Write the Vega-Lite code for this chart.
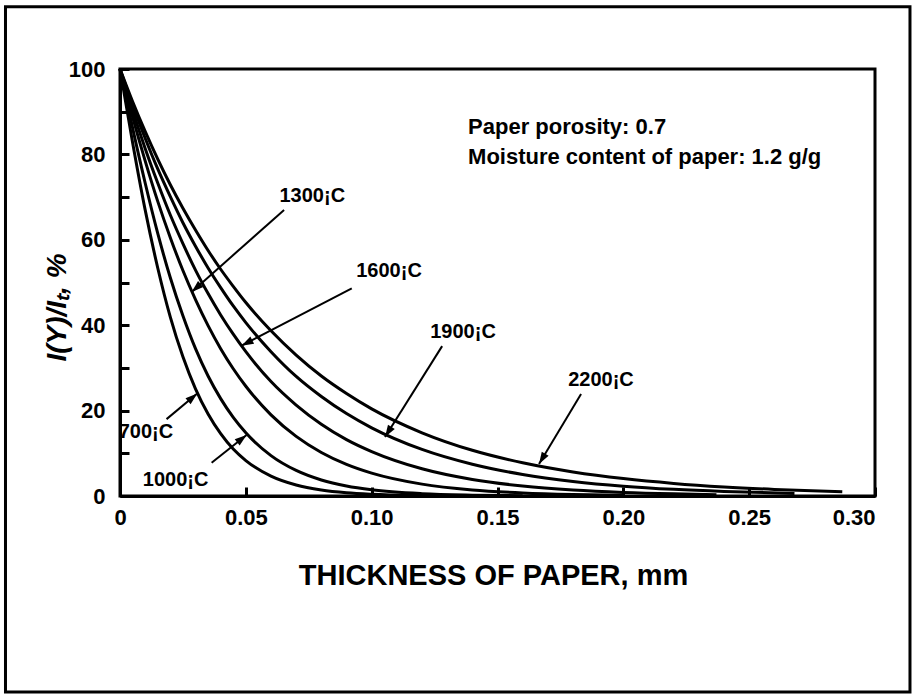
{
  "$schema": "https://vega.github.io/schema/vega-lite/v6.json",
  "width": 755,
  "height": 427,
  "autosize": {"type": "none"},
  "padding": {"left": 120, "top": 69, "right": 42, "bottom": 202},
  "background": "white",
  "config": {"view": {"stroke": "black", "strokeWidth": 3}, "font": "Liberation Sans"},
  "datasets": {
    "curves": [
      {"T": "700", "x": 0, "y": 100}, {"T": "700", "x": 0.005, "y": 82.8}, {"T": "700", "x": 0.01, "y": 67.0}, {"T": "700", "x": 0.015, "y": 53.4}, {"T": "700", "x": 0.02, "y": 41.9}, {"T": "700", "x": 0.025, "y": 32.6}, {"T": "700", "x": 0.03, "y": 25.1}, {"T": "700", "x": 0.035, "y": 19.2}, {"T": "700", "x": 0.04, "y": 14.6}, {"T": "700", "x": 0.045, "y": 11.0}, {"T": "700", "x": 0.05, "y": 8.3}, {"T": "700", "x": 0.06, "y": 4.65}, {"T": "700", "x": 0.07, "y": 2.57}, {"T": "700", "x": 0.08, "y": 1.41}, {"T": "700", "x": 0.09, "y": 0.76}, {"T": "700", "x": 0.10, "y": 0.41}, {"T": "700", "x": 0.12, "y": 0.12}, {"T": "700", "x": 0.13, "y": 0.06},
      {"T": "1000", "x": 0, "y": 100}, {"T": "1000", "x": 0.005, "y": 86.2}, {"T": "1000", "x": 0.01, "y": 73.3}, {"T": "1000", "x": 0.015, "y": 61.5}, {"T": "1000", "x": 0.02, "y": 51.1}, {"T": "1000", "x": 0.025, "y": 42.2}, {"T": "1000", "x": 0.03, "y": 34.5}, {"T": "1000", "x": 0.035, "y": 28.1}, {"T": "1000", "x": 0.04, "y": 22.8}, {"T": "1000", "x": 0.045, "y": 18.4}, {"T": "1000", "x": 0.05, "y": 14.8}, {"T": "1000", "x": 0.06, "y": 9.45}, {"T": "1000", "x": 0.07, "y": 5.98}, {"T": "1000", "x": 0.08, "y": 3.75}, {"T": "1000", "x": 0.09, "y": 2.33}, {"T": "1000", "x": 0.10, "y": 1.44}, {"T": "1000", "x": 0.12, "y": 0.54}, {"T": "1000", "x": 0.14, "y": 0.20}, {"T": "1000", "x": 0.16, "y": 0.07},
      {"T": "1300", "x": 0, "y": 100}, {"T": "1300", "x": 0.005, "y": 88.8}, {"T": "1300", "x": 0.01, "y": 78.5}, {"T": "1300", "x": 0.015, "y": 69.0}, {"T": "1300", "x": 0.02, "y": 60.5}, {"T": "1300", "x": 0.025, "y": 52.8}, {"T": "1300", "x": 0.03, "y": 46.0}, {"T": "1300", "x": 0.035, "y": 39.9}, {"T": "1300", "x": 0.04, "y": 34.5}, {"T": "1300", "x": 0.045, "y": 29.8}, {"T": "1300", "x": 0.05, "y": 25.7}, {"T": "1300", "x": 0.06, "y": 19.0}, {"T": "1300", "x": 0.07, "y": 13.96}, {"T": "1300", "x": 0.08, "y": 10.2}, {"T": "1300", "x": 0.09, "y": 7.41}, {"T": "1300", "x": 0.10, "y": 5.36}, {"T": "1300", "x": 0.12, "y": 2.78}, {"T": "1300", "x": 0.14, "y": 1.42}, {"T": "1300", "x": 0.16, "y": 0.72}, {"T": "1300", "x": 0.18, "y": 0.36}, {"T": "1300", "x": 0.20, "y": 0.18},
      {"T": "1600", "x": 0, "y": 100}, {"T": "1600", "x": 0.005, "y": 90.3}, {"T": "1600", "x": 0.01, "y": 81.4}, {"T": "1600", "x": 0.015, "y": 73.3}, {"T": "1600", "x": 0.02, "y": 65.8}, {"T": "1600", "x": 0.025, "y": 59.1}, {"T": "1600", "x": 0.03, "y": 52.9}, {"T": "1600", "x": 0.035, "y": 47.4}, {"T": "1600", "x": 0.04, "y": 42.4}, {"T": "1600", "x": 0.045, "y": 37.9}, {"T": "1600", "x": 0.05, "y": 33.8}, {"T": "1600", "x": 0.06, "y": 26.8}, {"T": "1600", "x": 0.07, "y": 21.3}, {"T": "1600", "x": 0.08, "y": 16.8}, {"T": "1600", "x": 0.09, "y": 13.2}, {"T": "1600", "x": 0.10, "y": 10.4}, {"T": "1600", "x": 0.12, "y": 6.37}, {"T": "1600", "x": 0.14, "y": 3.87}, {"T": "1600", "x": 0.16, "y": 2.34}, {"T": "1600", "x": 0.18, "y": 1.41}, {"T": "1600", "x": 0.20, "y": 0.84}, {"T": "1600", "x": 0.22, "y": 0.50}, {"T": "1600", "x": 0.237, "y": 0.32},
      {"T": "1900", "x": 0, "y": 100}, {"T": "1900", "x": 0.005, "y": 91.6}, {"T": "1900", "x": 0.01, "y": 83.8}, {"T": "1900", "x": 0.015, "y": 76.6}, {"T": "1900", "x": 0.02, "y": 70.1}, {"T": "1900", "x": 0.025, "y": 64.0}, {"T": "1900", "x": 0.03, "y": 58.5}, {"T": "1900", "x": 0.035, "y": 53.4}, {"T": "1900", "x": 0.04, "y": 48.8}, {"T": "1900", "x": 0.045, "y": 44.5}, {"T": "1900", "x": 0.05, "y": 40.6}, {"T": "1900", "x": 0.06, "y": 33.8}, {"T": "1900", "x": 0.07, "y": 28.0}, {"T": "1900", "x": 0.08, "y": 23.3}, {"T": "1900", "x": 0.09, "y": 19.3}, {"T": "1900", "x": 0.10, "y": 15.96}, {"T": "1900", "x": 0.12, "y": 10.9}, {"T": "1900", "x": 0.14, "y": 7.43}, {"T": "1900", "x": 0.16, "y": 5.04}, {"T": "1900", "x": 0.18, "y": 3.42}, {"T": "1900", "x": 0.20, "y": 2.31}, {"T": "1900", "x": 0.22, "y": 1.56}, {"T": "1900", "x": 0.24, "y": 1.05}, {"T": "1900", "x": 0.268, "y": 0.60},
      {"T": "2200", "x": 0, "y": 100}, {"T": "2200", "x": 0.005, "y": 92.4}, {"T": "2200", "x": 0.01, "y": 85.4}, {"T": "2200", "x": 0.015, "y": 78.9}, {"T": "2200", "x": 0.02, "y": 72.9}, {"T": "2200", "x": 0.025, "y": 67.4}, {"T": "2200", "x": 0.03, "y": 62.3}, {"T": "2200", "x": 0.035, "y": 57.5}, {"T": "2200", "x": 0.04, "y": 53.1}, {"T": "2200", "x": 0.045, "y": 49.1}, {"T": "2200", "x": 0.05, "y": 45.3}, {"T": "2200", "x": 0.06, "y": 38.7}, {"T": "2200", "x": 0.07, "y": 33.0}, {"T": "2200", "x": 0.08, "y": 28.1}, {"T": "2200", "x": 0.09, "y": 24.0}, {"T": "2200", "x": 0.10, "y": 20.4}, {"T": "2200", "x": 0.12, "y": 14.8}, {"T": "2200", "x": 0.14, "y": 10.7}, {"T": "2200", "x": 0.16, "y": 7.78}, {"T": "2200", "x": 0.18, "y": 5.64}, {"T": "2200", "x": 0.20, "y": 4.08}, {"T": "2200", "x": 0.22, "y": 2.95}, {"T": "2200", "x": 0.24, "y": 2.13}, {"T": "2200", "x": 0.26, "y": 1.54}, {"T": "2200", "x": 0.287, "y": 0.99}
    ],
    "arrows": [
      {"T": "700", "tx": 0.0185, "ty": 18.0, "hx": 0.0307, "hy": 24.0},
      {"T": "1000", "tx": 0.0364, "ty": 7.8, "hx": 0.0503, "hy": 14.3},
      {"T": "1300", "tx": 0.0652, "ty": 67.0, "hx": 0.0285, "hy": 47.8},
      {"T": "1600", "tx": 0.0921, "ty": 48.6, "hx": 0.0483, "hy": 35.2},
      {"T": "1900", "tx": 0.128, "ty": 35.1, "hx": 0.1053, "hy": 13.8},
      {"T": "2200", "tx": 0.1832, "ty": 23.9, "hx": 0.1665, "hy": 7.5}
    ],
    "labels": [
      {"text": "700¡C", "x": 0.0103, "y": 15.1},
      {"text": "1000¡C", "x": 0.0221, "y": 3.75},
      {"text": "1300¡C", "x": 0.0764, "y": 70.3},
      {"text": "1600¡C", "x": 0.1069, "y": 52.7},
      {"text": "1900¡C", "x": 0.1363, "y": 38.4},
      {"text": "2200¡C", "x": 0.1911, "y": 27.2}
    ],
    "notes": [
      {"text": "Paper porosity: 0.7", "x": 0.1383, "y": 86.4},
      {"text": "Moisture content of paper: 1.2 g/g", "x": 0.1383, "y": 79.4}
    ]
  },
  "layer": [
    {
      "data": {"name": "curves"},
      "mark": {"type": "line", "color": "black", "strokeWidth": 3, "interpolate": "monotone", "clip": false},
      "encoding": {
        "x": {
          "field": "x", "type": "quantitative",
          "scale": {"domain": [0, 0.3], "nice": false, "zero": false},
          "axis": {
            "values": [0, 0.05, 0.1, 0.15, 0.2, 0.25, 0.3],
            "labelExpr": "datum.value == 0 ? '0' : format(datum.value, '.2f')",
            "title": "THICKNESS OF PAPER, mm",
            "titleFont": "Liberation Sans", "titleFontSize": 29, "titleFontWeight": "bold", "titleColor": "black",
            "titleX": 373, "titleY": 79, "titleAlign": "center", "titleBaseline": "middle",
            "domainColor": "black", "domainWidth": 3,
            "ticks": true, "tickColor": "black", "tickWidth": 3, "tickSize": -9,
            "labelFont": "Liberation Sans", "labelFontSize": 22, "labelFontWeight": "bold", "labelColor": "black",
            "labelPadding": 20, "labelOverlap": false, "grid": false, "zindex": 1,
            "labelAlign": {"condition": {"test": "datum.value > 0.29", "value": "right"}, "value": "center"}
          }
        },
        "y": {
          "field": "y", "type": "quantitative",
          "scale": {"domain": [0, 100], "nice": false},
          "axis": {
            "values": [0, 10, 20, 30, 40, 50, 60, 70, 80, 90, 100],
            "labelExpr": "datum.value % 20 == 0 ? datum.label : ''",
            "title": "I(Y)/Iₜ, %",
            "titleFont": "Liberation Sans", "titleFontSize": 28, "titleFontWeight": "bold", "titleFontStyle": "italic", "titleColor": "black",
            "titleAngle": -90, "titleX": -63, "titleY": 238, "titleAlign": "center", "titleBaseline": "middle",
            "domainColor": "black", "domainWidth": 3,
            "ticks": true, "tickColor": "black", "tickWidth": 3, "tickSize": -9,
            "labelFont": "Liberation Sans", "labelFontSize": 22, "labelFontWeight": "bold", "labelColor": "black",
            "labelPadding": 24, "labelOverlap": false, "grid": false, "zindex": 1
          }
        },
        "detail": {"field": "T", "type": "nominal"}
      }
    },
    {
      "data": {"name": "arrows"},
      "mark": {"type": "rule", "color": "black", "strokeWidth": 2},
      "encoding": {
        "x": {"field": "tx", "type": "quantitative"},
        "y": {"field": "ty", "type": "quantitative"},
        "x2": {"field": "hx"},
        "y2": {"field": "hy"}
      }
    },
    {
      "data": {"name": "arrows"},
      "transform": [{"calculate": "atan2((datum.hx - datum.tx) * 2517, (datum.hy - datum.ty) * 4.27) * 180 / PI", "as": "ang"}],
      "mark": {"type": "point", "shape": "M0,0L0.8,2.4L-0.8,2.4Z", "filled": true, "color": "black", "size": 100, "opacity": 1},
      "encoding": {
        "x": {"field": "hx", "type": "quantitative"},
        "y": {"field": "hy", "type": "quantitative"},
        "angle": {"field": "ang", "type": "quantitative", "scale": null}
      }
    },
    {
      "data": {"name": "labels"},
      "mark": {"type": "text", "font": "Liberation Sans", "fontSize": 20, "fontWeight": "bold", "color": "black", "align": "center", "baseline": "middle"},
      "encoding": {
        "x": {"field": "x", "type": "quantitative"},
        "y": {"field": "y", "type": "quantitative"},
        "text": {"field": "text"}
      }
    },
    {
      "data": {"name": "notes"},
      "mark": {"type": "text", "font": "Liberation Sans", "fontSize": 22, "fontWeight": "bold", "color": "black", "align": "left", "baseline": "middle"},
      "encoding": {
        "x": {"field": "x", "type": "quantitative"},
        "y": {"field": "y", "type": "quantitative"},
        "text": {"field": "text"}
      }
    },
    {
      "data": {"values": [{}]},
      "mark": {"type": "rect", "fill": null, "fillOpacity": 0, "stroke": "black", "strokeWidth": 3, "clip": false},
      "encoding": {
        "x": {"datum": -0.0455},
        "x2": {"datum": 0.3139},
        "y": {"datum": 114.6},
        "y2": {"datum": -45.9}
      }
    }
  ]
}
